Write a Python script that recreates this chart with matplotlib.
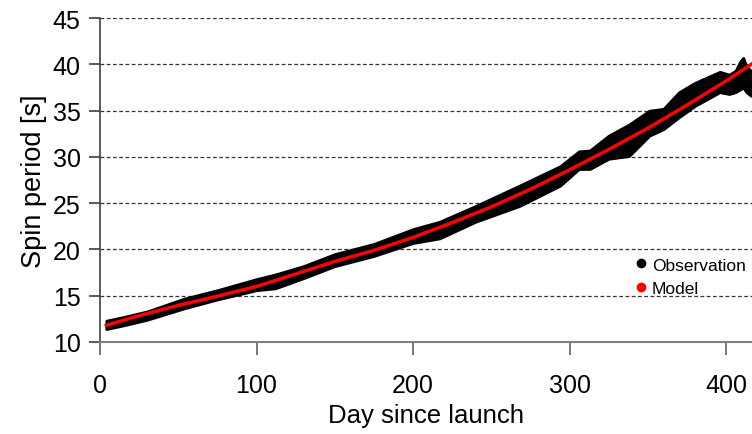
import numpy as np
import matplotlib.pyplot as plt
from matplotlib.lines import Line2D

plt.rcParams['font.family'] = ['Liberation Sans', 'DejaVu Sans']

# observed spin period: spread of the measurements (lower / upper edge)
obs_day = [4, 15, 30, 54, 75, 100, 112, 130, 150, 175, 200, 217, 240, 268,
           294, 300, 306, 313, 325, 338, 351, 360, 370, 380, 396, 402, 406,
           409, 411, 413, 416]
obs_low = [11.4, 11.8, 12.4, 13.65, 14.6, 15.6, 15.8, 16.9, 18.2, 19.3, 20.7,
           21.2, 23.0, 24.7, 26.9, 27.8, 28.7, 28.7, 29.8, 30.1, 32.3, 33.0,
           34.3, 35.5, 37.0, 36.8, 37.0, 37.3, 37.5, 37.0, 36.6]
obs_high = [12.3, 12.7, 13.3, 14.7, 15.6, 16.8, 17.3, 18.2, 19.5, 20.6, 22.2,
            23.0, 24.7, 26.9, 29.0, 29.8, 30.6, 30.7, 32.3, 33.5, 35.0, 35.2,
            37.0, 38.0, 39.2, 38.9, 39.3, 40.3, 40.7, 39.8, 39.3]

# model curve
model_day = [4, 25, 50, 75, 100, 125, 150, 175, 200, 225, 250, 275, 300, 325,
             350, 375, 400, 416]
model_period = [11.8, 12.85, 13.95, 14.95, 16.0, 17.35, 18.7, 19.9, 21.3, 22.9,
                24.6, 26.5, 28.6, 30.8, 33.1, 35.6, 38.2, 40.0]

x_ticks = [0, 100, 200, 300, 400]
y_ticks = [10, 15, 20, 25, 30, 35, 40, 45]

fig = plt.figure(figsize=(7.52, 4.35), dpi=100)
ax = fig.add_axes([0.133, 0.2115, 0.867, 0.7445])

ax.fill_between(obs_day, obs_low, obs_high, color='black', edgecolor='black',
                linewidth=2.0, zorder=3)
ax.plot(model_day, model_period, color='#ff0000', linewidth=2.5, zorder=4)

ax.set_xlim(0, 416.6)
ax.set_ylim(10, 45)
ax.set_xticks(x_ticks)
ax.set_yticks(y_ticks)

for y in y_ticks[1:]:
    ax.axhline(y, color='#333333', linewidth=0.9, linestyle=(0, (3, 2)), zorder=1)

for side in ['top', 'right']:
    ax.spines[side].set_visible(False)
ax.spines['left'].set_color('#404040')
ax.spines['bottom'].set_color('#808080')
ax.spines['left'].set_linewidth(1.2)
ax.spines['bottom'].set_linewidth(1.5)

ax.tick_params(axis='y', direction='out', length=8, width=1.2, color='#404040',
               labelsize=18, pad=6)
ax.tick_params(axis='x', direction='out', length=9, width=1.2, color='#606060',
               labelsize=18, pad=13)

ax.set_xlabel('Day since launch', fontsize=18.5, labelpad=5)
ax.set_ylabel('Spin period [s]', fontsize=19.5, labelpad=4)

handles = [
    Line2D([], [], linestyle='none', marker='o', color='black', markersize=6),
    Line2D([], [], linestyle='none', marker='o', color='#ff0000', markersize=6),
]
fig.legend(handles, ['Observation', 'Model'], loc='upper left',
           bbox_to_anchor=(0.845, 0.406), frameon=False, fontsize=12.5,
           handlelength=0.6, handletextpad=0.35, labelspacing=0.5,
           borderpad=0, borderaxespad=0)

fig.savefig('out.png', dpi=100)
